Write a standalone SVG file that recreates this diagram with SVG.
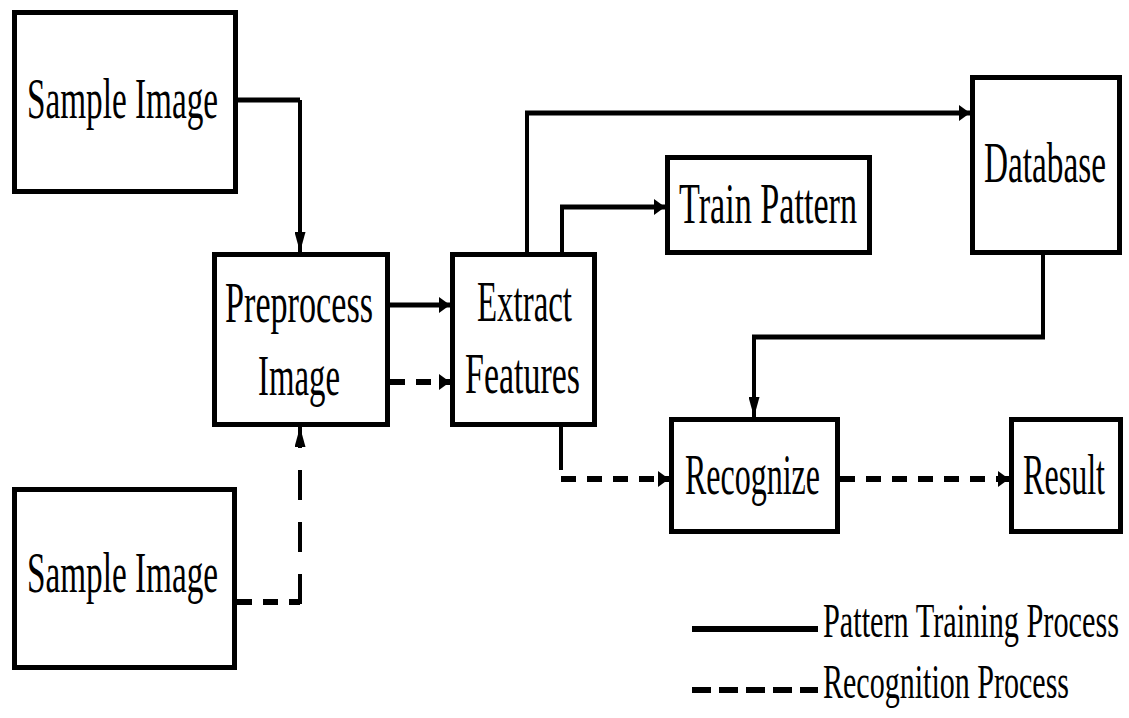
<svg xmlns="http://www.w3.org/2000/svg" width="1129" height="718" viewBox="0 0 1129 718">
<style>
.box{fill:#fff;stroke:#000;stroke-width:5}
.t{font-family:"Liberation Serif","Times New Roman",serif;font-size:58px;fill:#000}
.lg{font-family:"Liberation Serif","Times New Roman",serif;font-size:48px;fill:#000}
.s{fill:none;stroke:#000;stroke-width:5}
.v{fill:none;stroke:#000;stroke-width:4}
.dh{fill:none;stroke:#000;stroke-width:6;stroke-dasharray:15 11}
.dv{fill:none;stroke:#000;stroke-width:4;stroke-dasharray:30 22}
</style>
<defs>
<marker id="aH" markerUnits="userSpaceOnUse" markerWidth="11" markerHeight="16" refX="11" refY="8" orient="auto"><path d="M0,0 L11,8 L0,16 z" fill="#000"/></marker>
<marker id="aV" markerUnits="userSpaceOnUse" markerWidth="20" markerHeight="11" refX="20" refY="5.5" orient="auto"><path d="M0,0 L20,5.5 L0,11 z" fill="#000"/></marker>
</defs>
<rect width="1129" height="718" fill="#fff"/>
<g id="connectors">
<path class="s" d="M238,100 H300"/>
<path class="v" d="M300,100 V252" marker-end="url(#aV)"/>
<path class="s" d="M390,305 H450" marker-end="url(#aH)"/>
<path class="dh" d="M390,382 H450" marker-end="url(#aH)"/>
<path class="v" d="M527,252 V113"/>
<path class="s" d="M525,113 H970" marker-end="url(#aH)"/>
<path class="v" d="M562,252 V207"/>
<path class="s" d="M560,207 H665" marker-end="url(#aH)"/>
<path class="v" d="M1043,255 V337"/>
<path class="s" d="M1045,337 H752"/>
<path class="v" d="M754,335 V417" marker-end="url(#aV)"/>
<path class="v" d="M561,427 V470"/>
<path class="dh" d="M561,479 H669" marker-end="url(#aH)"/>
<path class="dh" d="M840,479 H1009" marker-end="url(#aH)"/>
<path class="dh" d="M237,602 H300"/>
<path class="dv" d="M300,604 V427" marker-end="url(#aV)"/>
</g>
<g id="sample1"><rect class="box" x="14.5" y="12.5" width="221" height="179"/><text class="t" x="27" y="118" textLength="191" lengthAdjust="spacingAndGlyphs">Sample Image</text></g>
<g id="preprocess"><rect class="box" x="214.5" y="254.5" width="173" height="170"/><text class="t" x="225" y="322" textLength="148" lengthAdjust="spacingAndGlyphs">Preprocess</text><text class="t" x="258" y="395" textLength="82" lengthAdjust="spacingAndGlyphs">Image</text></g>
<g id="extract"><rect class="box" x="452.5" y="254.5" width="142" height="170"/><text class="t" x="477" y="321" textLength="95" lengthAdjust="spacingAndGlyphs">Extract</text><text class="t" x="465" y="393" textLength="115" lengthAdjust="spacingAndGlyphs">Features</text></g>
<g id="train"><rect class="box" x="667.5" y="157.5" width="202" height="95"/><text class="t" x="679" y="223" textLength="178" lengthAdjust="spacingAndGlyphs">Train Pattern</text></g>
<g id="database"><rect class="box" x="972.5" y="77.5" width="147" height="175"/><text class="t" x="984" y="182" textLength="122" lengthAdjust="spacingAndGlyphs">Database</text></g>
<g id="recognize"><rect class="box" x="671.5" y="419.5" width="166" height="112"/><text class="t" x="685" y="494" textLength="135" lengthAdjust="spacingAndGlyphs">Recognize</text></g>
<g id="result"><rect class="box" x="1011.5" y="419.5" width="109" height="112"/><text class="t" x="1023" y="494" textLength="82" lengthAdjust="spacingAndGlyphs">Result</text></g>
<g id="sample2"><rect class="box" x="14.5" y="489.5" width="220" height="178"/><text class="t" x="27" y="592" textLength="191" lengthAdjust="spacingAndGlyphs">Sample Image</text></g>
<g id="legend">
<path class="s" d="M692,629 H818" style="stroke-width:6"/>
<path class="s" d="M692,690 H818" style="stroke-width:6;stroke-dasharray:19 8"/>
<text class="lg" x="823" y="637" textLength="296" lengthAdjust="spacingAndGlyphs">Pattern Training Process</text>
<text class="lg" x="823" y="698" textLength="246" lengthAdjust="spacingAndGlyphs">Recognition Process</text>
</g>
</svg>
